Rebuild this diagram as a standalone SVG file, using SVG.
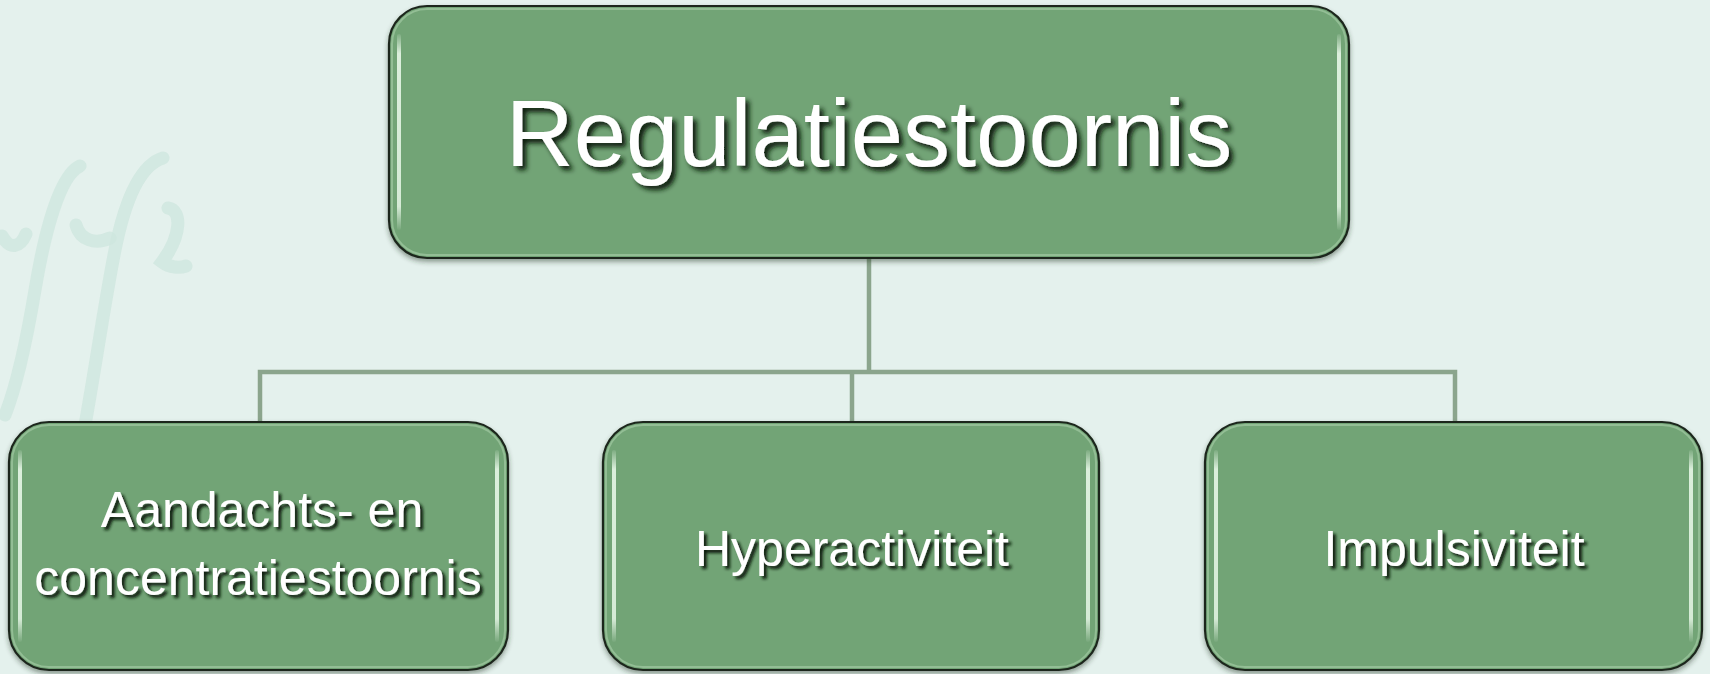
<svg xmlns="http://www.w3.org/2000/svg" width="1710" height="674" viewBox="0 0 1710 674">
<style>
.box{fill:#72a476;stroke:#1c261c;stroke-width:2.2}
.rim{fill:none;stroke:#b4d8b4;stroke-width:2;opacity:.5}
.hl{fill:url(#hlg)}
.lbl{font-family:"Liberation Sans",Arial,sans-serif;fill:#ffffff;text-anchor:middle}
.big{font-size:94px}
.small{font-size:50px}
.conn{fill:none;stroke:#8ba58d;stroke-width:4.5}
.wm{fill:none;stroke:#cde6dd;stroke-width:13;stroke-linecap:round;opacity:.75}
</style>
<defs>
<linearGradient id="hlg" x1="0" y1="0" x2="0" y2="1">
<stop offset="0" stop-color="#eefcee" stop-opacity="0.1"/>
<stop offset="0.1" stop-color="#eefcee" stop-opacity="0.85"/>
<stop offset="0.88" stop-color="#eefcee" stop-opacity="0.8"/>
<stop offset="1" stop-color="#eefcee" stop-opacity="0.05"/>
</linearGradient>
<filter id="bshadow" x="-5%" y="-5%" width="110%" height="115%">
<feDropShadow dx="0" dy="3" stdDeviation="2.5" flood-color="#223322" flood-opacity="0.45"/>
</filter>
<filter id="tshadow" x="-5%" y="-20%" width="110%" height="150%">
<feDropShadow dx="3" dy="3" stdDeviation="1.8" flood-color="#0c1a0e" flood-opacity="1"/>
</filter>
<filter id="tshadowbig" x="-5%" y="-20%" width="110%" height="150%">
<feDropShadow dx="4" dy="4" stdDeviation="2.4" flood-color="#0c1a0e" flood-opacity="1"/>
</filter>
</defs>
<rect x="0" y="0" width="1710" height="674" fill="#e4f1ed"/>
<g id="watermark">
<path class="wm" d="M80 166 C 60 175, 45 230, 35 290 C 25 350, 15 390, 5 415"/>
<path class="wm" d="M163 158 C 140 165, 125 200, 115 250 C 105 300, 95 370, 85 425"/>
<path class="wm" d="M76 225 C 80 240, 95 245, 110 238"/>
<path class="wm" d="M2 236 C 10 250, 20 248, 26 234"/>
<path class="wm" d="M168 208 C 182 210, 182 235, 162 262 C 170 268, 180 268, 186 266"/>
</g>
<g id="connectors">
<path class="conn" d="M869 258 V372"/>
<path class="conn" d="M260 423 V372 H1455 V423"/>
<path class="conn" d="M852 372 V423"/>
</g>
<g id="node-top" filter="url(#bshadow)">
<rect class="box" x="389" y="6" width="960" height="252" rx="38" ry="38"/>
<rect class="rim" x="392" y="9" width="954" height="246" rx="35" ry="35"/>
<rect class="hl" x="397" y="34" width="4" height="196" rx="2"/>
<rect class="hl" x="1337" y="34" width="4" height="196" rx="2"/>
<text class="lbl big" x="869" y="166" filter="url(#tshadowbig)">Regulatiestoornis</text>
</g>
<g id="node-aandacht" filter="url(#bshadow)">
<rect class="box" x="9" y="422" width="499" height="248" rx="40" ry="40"/>
<rect class="rim" x="12" y="425" width="493" height="242" rx="37" ry="37"/>
<rect class="hl" x="18" y="450" width="4" height="192" rx="2"/>
<rect class="hl" x="495" y="450" width="4" height="192" rx="2"/>
<text class="lbl small" filter="url(#tshadow)"><tspan x="262" y="527">Aandachts- en</tspan><tspan x="258" y="595">concentratiestoornis</tspan></text>
</g>
<g id="node-hyper" filter="url(#bshadow)">
<rect class="box" x="603" y="422" width="496" height="248" rx="40" ry="40"/>
<rect class="rim" x="606" y="425" width="490" height="242" rx="37" ry="37"/>
<rect class="hl" x="612" y="450" width="4" height="192" rx="2"/>
<rect class="hl" x="1086" y="450" width="4" height="192" rx="2"/>
<text class="lbl small" x="852" y="566" filter="url(#tshadow)">Hyperactiviteit</text>
</g>
<g id="node-impuls" filter="url(#bshadow)">
<rect class="box" x="1205" y="422" width="497" height="248" rx="40" ry="40"/>
<rect class="rim" x="1208" y="425" width="491" height="242" rx="37" ry="37"/>
<rect class="hl" x="1214" y="450" width="4" height="192" rx="2"/>
<rect class="hl" x="1689" y="450" width="4" height="192" rx="2"/>
<text class="lbl small" x="1454" y="566" filter="url(#tshadow)">Impulsiviteit</text>
</g>
</svg>
